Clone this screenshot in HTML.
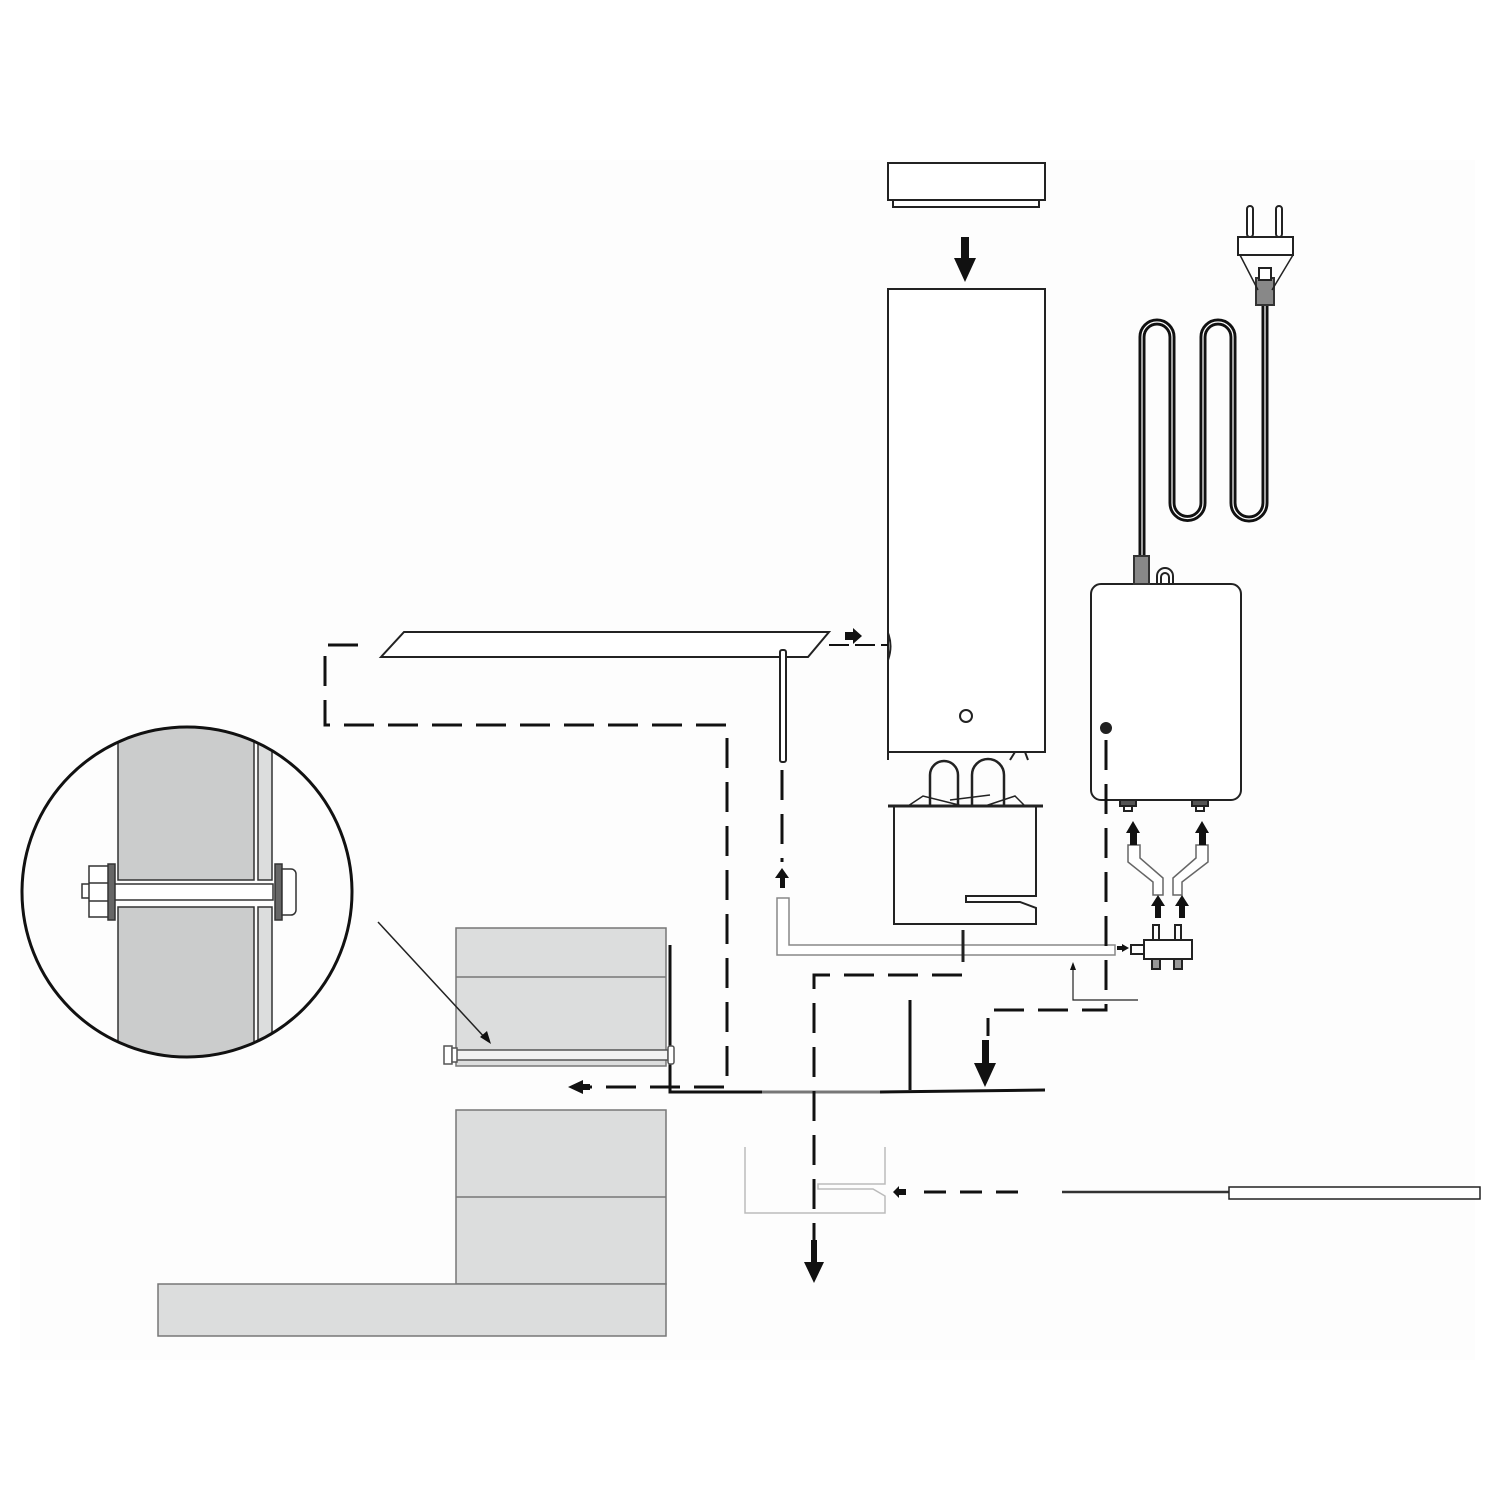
<!DOCTYPE html>
<html><head><meta charset="utf-8"><style>html,body{margin:0;padding:0;background:#fff}svg{display:block}</style></head>
<body>
<svg width="1500" height="1500" viewBox="0 0 1500 1500" xmlns="http://www.w3.org/2000/svg">
<defs>
<clipPath id="cc"><circle cx="187" cy="892" r="164"/></clipPath>
</defs>
<rect width="1500" height="1500" fill="#fff"/>
<rect x="20" y="160" width="1455" height="1200" fill="#fdfdfd"/>
<g fill="none" stroke="#222" stroke-width="2">
<!-- cap -->
<rect x="888" y="163" width="157" height="37" fill="#fff"/>
<rect x="893" y="200" width="146" height="7" fill="#fff"/>
<!-- tall box -->
<rect x="888" y="289" width="157" height="463" fill="#fff"/>
<circle cx="966" cy="716" r="6"/>
<path d="M888,633 q5,13 0,27" />
<path d="M888,752 v8 M1015,752 l-5,8 M1025,752 l3,8"/>
<!-- handle -->
<polygon points="381,657 404,632 829,632 808,657" fill="#fff"/>
<rect x="780" y="650" width="6" height="112" rx="2" fill="#fff"/>
<!-- transformer -->
<path d="M930,806 V775 a14,14 0 0 1 28,0 V806 M972,806 V775 a16,16 0 0 1 32,0 V806" stroke-width="2.5"/>
<path d="M908,806 l15,-10 l40,10 M985,806 l30,-10 l10,10 M950,800 l40,-5" stroke-width="1.5"/>
<path d="M888,806 H1043" stroke-width="3"/>
<path d="M894,806 V924 H1036 V908 L1020,902 H966 V896 H1036 V806"/>
<!-- tube -->
<path d="M777,898 V955 H1115 V945 H789 V898 Z" fill="#fff" stroke="#888" stroke-width="1.5"/>
<path d="M963,930 V962" stroke-width="3"/>
<!-- controller -->
<rect x="1091" y="584" width="150" height="216" rx="10" fill="#fff"/>
<circle cx="1106" cy="728" r="5" fill="#222"/>
<path d="M1157,584 v-8 a8,8 0 0 1 16,0 v8 M1161,584 v-7 a4,4 0 0 1 8,0 v7"/>
<rect x="1120" y="800" width="16" height="6" fill="#555"/><rect x="1192" y="800" width="16" height="6" fill="#555"/>
<rect x="1124" y="806" width="8" height="5"/><rect x="1196" y="806" width="8" height="5"/>
<!-- cord -->
<path d="M1142,560 V337 A15,15 0 0 1 1172,337 V503 A15.5,15.5 0 0 0 1203,503 V337 A15,15 0 0 1 1233,337 V503 A16,16 0 0 0 1265,503 V300" stroke="#111" stroke-width="7"/>
<path d="M1142,560 V337 A15,15 0 0 1 1172,337 V503 A15.5,15.5 0 0 0 1203,503 V337 A15,15 0 0 1 1233,337 V503 A16,16 0 0 0 1265,503 V300" stroke="#fff" stroke-width="1.2"/>
<rect x="1134" y="556" width="15" height="28" fill="#888" stroke="#333"/>
<rect x="1256" y="278" width="18" height="27" fill="#888" stroke="#333"/>
<rect x="1259" y="268" width="12" height="12" fill="#fff"/>
<path d="M1240,255 L1258,290 M1293,255 L1272,290" stroke-width="1.5"/>
<rect x="1238" y="237" width="55" height="18" fill="#fff"/>
<rect x="1247" y="206" width="6" height="31" rx="3" fill="#fff"/><rect x="1276" y="206" width="6" height="31" rx="3" fill="#fff"/>
<!-- Y hoses -->
<path d="M1128,845 H1140 V858 L1163,878 V895 H1153 V882 L1128,862 Z M1208,845 H1196 V858 L1173,878 V895 H1182 V882 L1208,862 Z" stroke="#666" stroke-width="1.5" fill="#fff"/>
<!-- manifold -->
<rect x="1144" y="940" width="48" height="19" fill="#fff"/>
<rect x="1131" y="945" width="13" height="9"/>
<rect x="1153" y="925" width="6" height="15"/><rect x="1175" y="925" width="6" height="15"/>
<rect x="1152" y="959" width="8" height="10" fill="#999"/><rect x="1174" y="959" width="8" height="10" fill="#999"/>
<!-- thin arrow -->
<path d="M1138,1000 H1073 V968" stroke-width="1.2"/>
<!-- floor -->
<path d="M670,945 V1092 H762" stroke="#111" stroke-width="3"/>
<path d="M762,1092 H880" stroke="#777" stroke-width="3"/>
<path d="M880,1092 L1045,1090 M910,1000 V1090" stroke="#111" stroke-width="3"/>
<!-- panels -->
<g fill="#dcdddd" stroke="#777" stroke-width="1.5">
<rect x="456" y="928" width="210" height="138"/>
<rect x="456" y="1110" width="210" height="174"/>
<rect x="158" y="1284" width="508" height="52"/>
</g>
<path d="M456,977 H666 M456,1197 H666" stroke="#777" stroke-width="1.5"/>
<rect x="456" y="1050" width="212" height="10" fill="#f2f2f2" stroke="#555" stroke-width="1.5"/>
<rect x="444" y="1046" width="8" height="18" fill="#fff" stroke="#555" stroke-width="1.5"/>
<rect x="452" y="1048" width="5" height="14" fill="#fff" stroke="#555" stroke-width="1.5"/>
<rect x="668" y="1046" width="6" height="18" rx="2" fill="#fff" stroke="#555" stroke-width="1.5"/>
<path d="M378,922 L487,1040" stroke-width="1.5"/>
<!-- faint part -->
<path d="M745,1147 V1213 H885 V1196 L873,1189 H818 V1184 H885 V1147" stroke="#bbb" stroke-width="1.5"/>
<!-- rod -->
<path d="M1062,1192 H1229" stroke="#333" stroke-width="2.5"/>
<rect x="1229" y="1187" width="251" height="12" fill="#fff" stroke-width="1.5"/>
<!-- dashed -->
<g stroke="#111" stroke-width="3" stroke-dasharray="30,14">
<path d="M358,645 H325 V725 H727 V1087 H590"/>
<path d="M829,645 H888" stroke-width="2" stroke-dasharray="20,6"/>
<path d="M782,770 V862"/>
<path d="M962,975 H814 V1242"/>
<path d="M1106,740 V1010 H988 V1036"/>
<path d="M1018,1192 H910" stroke-dasharray="22,14"/>
</g>
</g>
<!-- circle detail -->
<g clip-path="url(#cc)">
<rect x="118" y="700" width="136" height="180" fill="#cbcccc" stroke="#333" stroke-width="1.5"/>
<rect x="118" y="907" width="136" height="180" fill="#cbcccc" stroke="#333" stroke-width="1.5"/>
<rect x="258" y="700" width="14" height="180" fill="#dcdddd" stroke="#333" stroke-width="1.5"/>
<rect x="258" y="907" width="14" height="180" fill="#dcdddd" stroke="#333" stroke-width="1.5"/>
</g>
<g stroke="#333" stroke-width="1.5">
<rect x="113" y="884" width="160" height="16" fill="#fff"/>
<rect x="82" y="884" width="8" height="14" fill="#fff"/>
<rect x="89" y="866" width="20" height="51" fill="#fff"/>
<path d="M89,883 H109 M89,901 H109" />
<rect x="108" y="864" width="7" height="56" fill="#666"/>
<rect x="275" y="864" width="7" height="56" fill="#666"/>
<path d="M282,869 h9 a5,5 0 0 1 5,5 v36 a5,5 0 0 1 -5,5 h-9 Z" fill="#fff"/>
</g>
<circle cx="187" cy="892" r="165" fill="none" stroke="#111" stroke-width="3"/>
<!-- arrows -->
<g fill="#111">
<polygon points="961,237 969,237 969,258 976,258 965,282 954,258 961,258"/>
<polygon points="845,632 853,632 853,628 862,636 853,644 853,640 845,640"/>
<polygon points="780,888 785,888 785,878 789,878 782,868 775,878 780,878"/>
<polygon points="590,1084 583,1084 583,1080 568,1087 583,1094 583,1090 590,1090"/>
<polygon points="811,1240 817,1240 817,1262 824,1262 814,1283 804,1262 811,1262"/>
<polygon points="982,1040 989,1040 989,1063 996,1063 985,1087 974,1063 982,1063"/>
<polygon points="1130,845 1137,845 1137,833 1140,833 1133,821 1126,833 1130,833"/>
<polygon points="1199,845 1206,845 1206,833 1209,833 1202,821 1195,833 1199,833"/>
<polygon points="1155,918 1161,918 1161,906 1165,906 1158,895 1151,906 1155,906"/>
<polygon points="1179,918 1185,918 1185,906 1189,906 1182,895 1175,906 1179,906"/>
<polygon points="1117,946 1122,946 1122,944 1129,948 1122,952 1122,950 1117,950"/>
<polygon points="1073,962 1070,970 1076,970"/>
<polygon points="906,1189 899,1189 899,1186 893,1192 899,1198 899,1195 906,1195"/>
<polygon points="491,1044 480,1037 487,1031"/>
</g>
</svg>
</body></html>
